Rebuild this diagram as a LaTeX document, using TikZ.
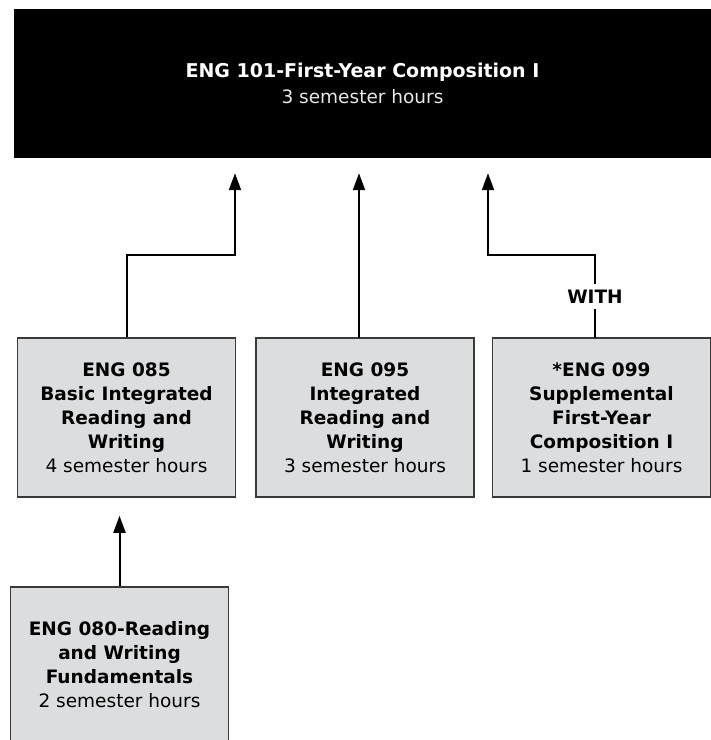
\documentclass[tikz,border=0pt]{standalone}
\usepackage{fontspec}
\setmainfont{DejaVu Sans}
\usetikzlibrary{arrows.meta}

\definecolor{boxfill}{HTML}{DCDDDF}
\definecolor{boxline}{HTML}{3A3A3A}
\definecolor{subtext}{HTML}{E8E8E8}

\newcommand{\bl}[1]{\textbf{#1}}

\tikzset{
  course/.style={draw=boxline, line width=1.5pt, fill=boxfill, align=center,
    minimum width=218pt, inner sep=0pt,
    font=\fontsize{18.5}{24}\selectfont},
  header/.style={fill=black, draw=none, align=center, text=white,
    minimum width=697pt, minimum height=149pt, inner sep=0pt,
    font=\fontsize{19}{25.5}\selectfont},
  link/.style={line width=2pt, draw=black},
  arr/.style={link, -{Triangle[length=17pt,width=12pt]}, shorten >=15pt},
  tag/.style={fill=white, inner sep=1pt, minimum height=25pt,
    font=\fontsize{18.5}{22}\selectfont\bfseries}
}

\begin{document}
\begin{tikzpicture}[x=1pt, y=-1pt]
  \useasboundingbox (0,0) rectangle (711,740);

  % top course
  \node[header] (top) at (362.5,83.5)
    {\bl{ENG 101-First-Year Composition I}\\\textcolor{subtext}{\fontsize{18.5}{25.5}\selectfont 3 semester hours}};

  % middle row of courses
  \node[course, minimum height=159pt] (b1) at (126.5,417.5)
    {\bl{ENG 085}\\\bl{Basic Integrated}\\\bl{Reading and}\\\bl{Writing}\\4 semester hours};
  \node[course, minimum height=159pt] (b2) at (365,417.5)
    {\bl{ENG 095}\\\bl{Integrated}\\\bl{Reading and}\\\bl{Writing}\\3 semester hours};
  \node[course, minimum height=159pt] (b3) at (601.5,417.5)
    {\bl{*ENG 099}\\\bl{Supplemental}\\\bl{First-Year}\\\bl{Composition I}\\1 semester hours};

  % entry course
  \node[course, minimum height=156pt] (b4) at (119.5,665)
    {\bl{ENG 080-Reading}\\\bl{and Writing}\\\bl{Fundamentals}\\2 semester hours};

  % connector junctions
  \coordinate (ja) at (235,255);
  \coordinate (jb) at (359,338);
  \coordinate (jc) at (488,255);
  \coordinate (c3) at (595,338);

  % connectors
  \draw[arr] (b1.north) |- (ja) -- (ja |- top.south);
  \draw[arr] (jb) -- (jb |- top.south);
  \node[tag] (with) at (595,296.5) {WITH};
  \draw[link] (c3) -- (with);
  \draw[arr] (with) |- (jc) -- (jc |- top.south);
  \draw[arr, shorten >=18pt] (b4.north) -- (b4.north |- b1.south);
\end{tikzpicture}
\end{document}
